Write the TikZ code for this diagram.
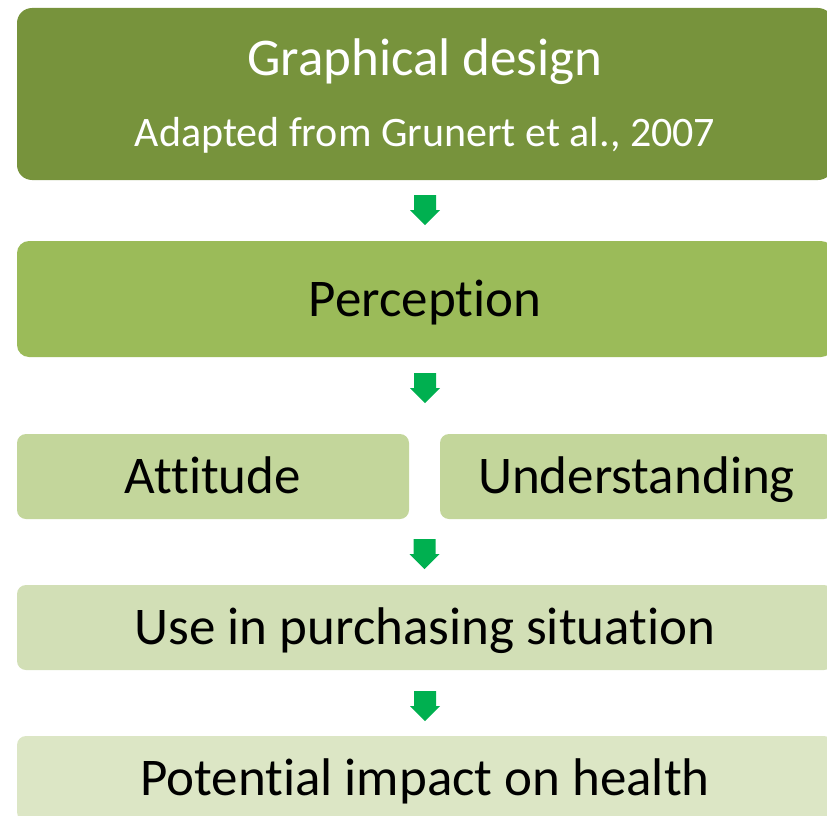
\documentclass[tikz,border=0pt]{standalone}
\usepackage{fontspec}
\setmainfont{Carlito}[RawFeature=-liga]
\usetikzlibrary{positioning}

\definecolor{olive1}{HTML}{77933C}
\definecolor{olive2}{HTML}{9BBB59}
\definecolor{olive3}{HTML}{C3D69B}
\definecolor{olive4}{HTML}{D2DFB6}
\definecolor{olive5}{HTML}{DCE6C5}
\definecolor{flowgreen}{HTML}{00B050}

\begin{document}
\begin{tikzpicture}[
    x=1pt, y=-1pt,
    stage/.style={rectangle, inner sep=0pt, rounded corners=9pt, fill=#1,
      minimum height=85pt, text height=34pt, text depth=0pt,
      font=\fontsize{53}{64}\selectfont},
    downarrow/.pic={
      \fill[flowgreen] (-11,0) -- (11,0) -- (11,15) -- (15,15) -- (0,30)
        -- (-15,15) -- (-11,15) -- cycle;
    }
  ]
  \useasboundingbox (0,0) rectangle (827,816);
  \clip (0,0) rectangle (827,816);

  % top box with its source line
  \node[stage=olive1, minimum width=816pt, minimum height=172pt, rounded corners=15pt] (gd) at (425,94) {};
  \node[anchor=base, white, font=\fontsize{53}{62}\selectfont] (gdtitle) at (425,75) {Graphical design};
  \node[anchor=base, white, font=\fontsize{42}{50}\selectfont] (gdsrc) at (425,146) {Adapted from Grunert et al., 2007};

  \node[stage=olive2, minimum width=816pt, minimum height=116pt, rounded corners=12pt] (perc) at (425,299) {Perception};

  \node[stage=olive3, minimum width=392pt] (att) at (213,476.5) {Attitude};
  \node[stage=olive3, minimum width=393pt] (und) at (636.5,476.5) {Understanding};

  \node[stage=olive4, minimum width=816pt] (use) at (425,627.5) {Use in purchasing situation};

  \node[stage=olive5, minimum width=816pt] (pot) at (425,778.5) {Potential impact on health};

  % block arrows between the stages
  \pic at ([yshift=-15pt]gd.south) {downarrow};
  \pic at ([yshift=-16pt]perc.south) {downarrow};
  \pic at ([xshift=-0.5pt, yshift=-20pt]att.south -| use.south) {downarrow};
  \pic at ([yshift=-21pt]use.south) {downarrow};

\end{tikzpicture}
\end{document}
